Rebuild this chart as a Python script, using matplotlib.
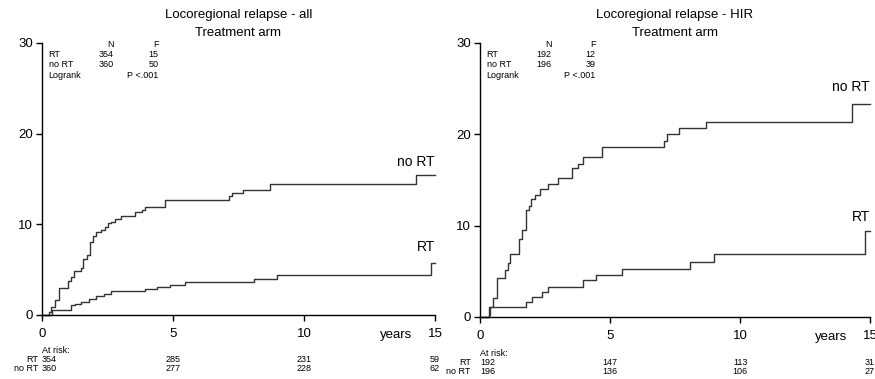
import matplotlib
matplotlib.use("Agg")
import matplotlib.pyplot as plt
import matplotlib.transforms as mtransforms

plt.rcParams['font.family'] = ['Liberation Sans', 'DejaVu Sans']

# ==== Data: cumulative locoregional relapse (%) ====
# all patients
ALL_NORT_T = [0, 0.27, 0.36, 0.48, 0.64, 1.0, 1.12, 1.22, 1.48, 1.57, 1.73, 1.82,
              1.95, 2.08, 2.27, 2.40, 2.52, 2.65, 2.78, 3.03, 3.54, 3.80, 3.93,
              4.69, 7.12, 7.25, 7.67, 8.69, 14.27, 15]
ALL_NORT_V = [0, 0.3, 0.9, 1.65, 3.0, 3.7, 4.2, 4.8, 5.2, 6.2, 6.6, 8.05,
              8.7, 9.15, 9.4, 9.7, 10.1, 10.3, 10.55, 10.9, 11.35, 11.6, 11.9,
              12.7, 13.1, 13.4, 13.8, 14.5, 15.4, 15.4]
ALL_RT_T = [0, 0.4, 1.11, 1.25, 1.48, 1.80, 2.05, 2.37, 2.65, 3.94, 4.39, 4.9,
            5.47, 8.08, 8.98, 14.84, 15]
ALL_RT_V = [0, 0.55, 1.1, 1.25, 1.46, 1.8, 2.05, 2.3, 2.6, 2.85, 3.1, 3.3,
            3.65, 4.0, 4.4, 5.75, 5.75]

# HIR subgroup
HIR_NORT_T = [0, 0.33, 0.40, 0.50, 0.64, 0.97, 1.06, 1.17, 1.51, 1.62, 1.77, 1.87,
              1.96, 2.13, 2.31, 2.63, 3.01, 3.53, 3.78, 3.95, 4.68, 7.09, 7.18,
              7.67, 8.68, 14.3, 15]
HIR_NORT_V = [0, 0.2, 1.1, 2.05, 4.24, 5.15, 5.9, 6.9, 8.5, 9.5, 11.7, 12.1,
              12.9, 13.4, 14.0, 14.6, 15.2, 16.3, 16.8, 17.5, 18.65, 19.3, 20.0,
              20.65, 21.4, 23.3, 23.3]
HIR_RT_T = [0, 0.36, 1.77, 1.99, 2.37, 2.63, 3.95, 4.46, 5.45, 8.08, 9.0, 14.81, 15]
HIR_RT_V = [0, 1.13, 1.68, 2.22, 2.77, 3.32, 4.05, 4.6, 5.26, 6.06, 6.87, 9.42, 9.42]

# ==== Tables ====
RISK_TIMES = [0, 5, 10, 15]
ALL_RISK_RT = [354, 285, 231, 59]
ALL_RISK_NORT = [360, 277, 228, 62]
HIR_RISK_RT = [192, 147, 113, 31]
HIR_RISK_NORT = [196, 136, 106, 27]

ALL_N = [354, 360]
ALL_F = [15, 50]
HIR_N = [192, 196]
HIR_F = [12, 39]
PVAL = "P <.001"

XTICKS = [0, 5, 10, 15]
YTICKS = [0, 10, 20, 30]
LINE_COL = '#333333'


def draw_panel(ax, title, nort, rt, n, f, risk_rt, risk_nort, lab_y, risk_lab_x):
    ax.step(nort[0], nort[1], where='post', color=LINE_COL, lw=1.0, clip_on=False)
    ax.step(rt[0], rt[1], where='post', color=LINE_COL, lw=1.0, clip_on=False)

    ax.set_xlim(0, 15)
    ax.set_ylim(0, 30)
    ax.set_xticks(XTICKS)
    ax.set_yticks(YTICKS)
    ax.tick_params(direction='out', length=4, width=1, labelsize=9.5, colors='black')
    ax.tick_params(axis='x', pad=5.5)
    ax.tick_params(axis='y', pad=2.5)
    for s in ['top', 'right']:
        ax.spines[s].set_visible(False)
    for s in ['left', 'bottom']:
        ax.spines[s].set_linewidth(1.0)

    # titel
    ax.text(0.5, 1.103, title, transform=ax.transAxes, ha='center', va='center', fontsize=9.5)
    ax.text(0.5, 1.037, "Treatment arm", transform=ax.transAxes, ha='center', va='center', fontsize=9.5)

    # curve labels
    ax.text(15, lab_y[0], "no RT", ha='right', va='center', fontsize=10)
    ax.text(15, lab_y[1], "RT", ha='right', va='center', fontsize=10)

    # N / F table
    fs = 6.5
    ax.text(2.75, 29.8, "N", ha='right', va='center', fontsize=fs)
    ax.text(4.45, 29.8, "F", ha='right', va='center', fontsize=fs)
    rows = [("RT", n[0], f[0], 28.7), ("no RT", n[1], f[1], 27.6)]
    for name, nn, ff, yy in rows:
        ax.text(0.25, yy, name, ha='left', va='center', fontsize=fs)
        ax.text(2.75, yy, str(nn), ha='right', va='center', fontsize=fs)
        ax.text(4.45, yy, str(ff), ha='right', va='center', fontsize=fs)
    ax.text(0.25, 26.4, "Logrank", ha='left', va='center', fontsize=fs)
    ax.text(4.45, 26.4, PVAL, ha='right', va='center', fontsize=fs)

    # years + at risk
    tr = mtransforms.blended_transform_factory(ax.transData, ax.transAxes)
    ax.text(13.5, -0.074, "years", transform=tr, ha='center', va='center', fontsize=9.5)
    ax.text(0, -0.132, "At risk:", transform=tr, ha='left', va='center', fontsize=fs)
    for yy, name, vals in [(-0.165, "RT", risk_rt), (-0.198, "no RT", risk_nort)]:
        ax.text(risk_lab_x, yy, name, transform=tr, ha='right', va='center', fontsize=fs)
        for i, (t, v) in enumerate(zip(RISK_TIMES, vals)):
            ax.text(t, yy, str(v), transform=tr, ha='left' if i == 0 else 'center',
                    va='center', fontsize=fs, clip_on=False)


fig = plt.figure(figsize=(8.75, 3.79), dpi=100)
ax1 = fig.add_axes([0.048, 0.1689, 0.4491, 0.7177])
ax2 = fig.add_axes([0.5486, 0.1636, 0.4457, 0.7230])

draw_panel(ax1, "Locoregional relapse - all", (ALL_NORT_T, ALL_NORT_V), (ALL_RT_T, ALL_RT_V),
           ALL_N, ALL_F, ALL_RISK_RT, ALL_RISK_NORT, (16.9, 7.5), -0.15)
draw_panel(ax2, "Locoregional relapse - HIR", (HIR_NORT_T, HIR_NORT_V), (HIR_RT_T, HIR_RT_V),
           HIR_N, HIR_F, HIR_RISK_RT, HIR_RISK_NORT, (25.2, 11.0), -0.36)

fig.savefig("out.png", dpi=100)
